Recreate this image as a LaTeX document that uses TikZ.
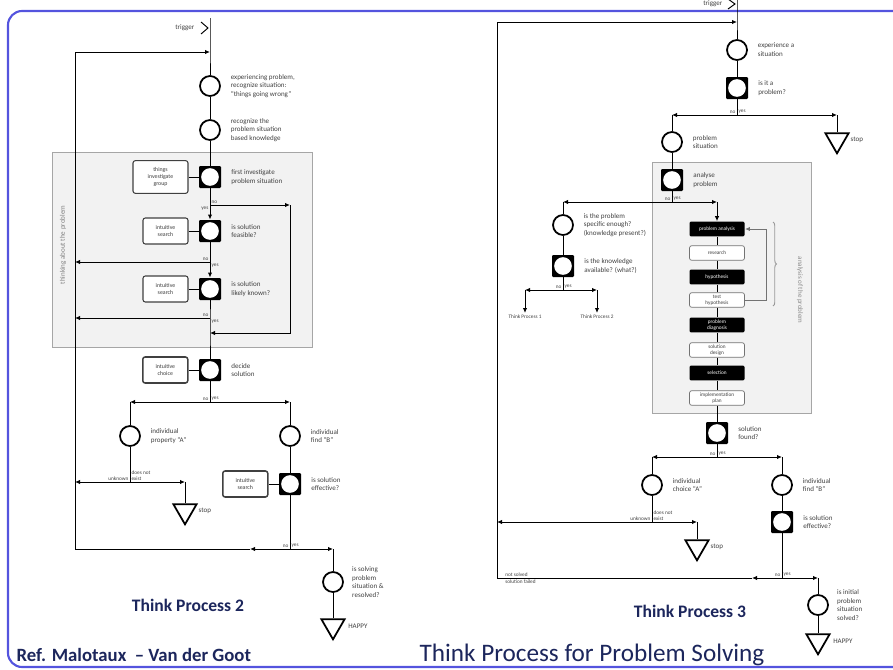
\documentclass[tikz,border=0pt]{standalone}
\usepackage{fontspec}
\setmainfont{Carlito}
\usetikzlibrary{shapes.geometric, arrows.meta, positioning, calc, decorations.pathreplacing}
\definecolor{navy}{RGB}{28,38,92}
\definecolor{frameblue}{RGB}{84,84,222}
\tikzset{every node/.append style={align=left, inner sep=1pt}}

\begin{document}
\begin{tikzpicture}[x=0.3mm, y=-0.3mm, line width=0.8pt,
    st/.style={circle, draw=black, line width=1.5pt, fill=white, minimum size=6mm, inner sep=0pt},
    dc/.style={rectangle, rounded corners=1pt, fill=black, minimum size=6.6mm, inner sep=0pt,
      path picture={\fill[white] (path picture bounding box.center) circle (2.65mm);}},
    tri/.style={regular polygon, regular polygon sides=3, shape border rotate=180, draw=black, line width=1.5pt, fill=white, minimum size=8mm, inner sep=0pt},
    ctx/.style={rectangle, rounded corners=2pt, draw=black!75, line width=0.9pt, fill=white, text=black!75, align=center, font=\fontsize{5}{6}\selectfont, minimum height=7.8mm, minimum width=13.5mm},
    lbl/.style={font=\fontsize{6}{7.5}\selectfont, text=black!75, align=left},
    yn/.style={font=\fontsize{4.5}{5}\selectfont, text=black!75},
    blk/.style={rectangle, rounded corners=1pt, fill=black, text=white, align=center, minimum width=16.5mm, minimum height=4.4mm, font=\fontsize{4.5}{5}\selectfont},
    wht/.style={rectangle, rounded corners=2pt, draw=black!55, line width=0.6pt, fill=white, text=black!75, align=center, minimum width=16.5mm, minimum height=4.4mm, font=\fontsize{4.5}{5}\selectfont},
    flow/.style={-{Latex[length=1.5mm, width=1.3mm]}},
    zone/.style={draw=black!35, fill=black!5, line width=0.6pt},
    tpcap/.style={font=\bfseries\fontsize{15}{17}\selectfont, text=navy}]
\useasboundingbox (0,0) rectangle (893,670);
\draw[frameblue, line width=1.8pt, rounded corners=12pt] (8,11) rectangle (910,667);

\path[zone] (52,152) rectangle (312,347);
\path[zone] (652,162) rectangle (811,413);
\node[lbl, rotate=90, text=black!50] (zl2) at (63,245) {thinking about the problem};
\node[lbl, rotate=-90, text=black!45] (zl3) at (800,290) {analysis of the problem};

\coordinate (tp2in) at (210,18);
\coordinate (tp2top) at (210,52);
\coordinate (lpt) at (75,52);
\node[lbl, anchor=east] (trig2) at (196,28) {trigger};
\draw (201,22) -- (208,28) -- (201,34);
\node[st] (s1) at (210,86) {};
\node[lbl, right=2.5mm of s1] (s1t) {experiencing problem,\\recognize situation:\\``things going wrong''};
\node[st] (s2) at (210,130) {};
\node[lbl, right=2.5mm of s2] (s2t) {recognize the\\problem situation\\based knowledge};
\node[dc] (d1) at (210,177) {};
\node[ctx, minimum width=16.5mm, minimum height=9.8mm, left=3mm of d1] (b1box) {things\\investigate\\group};
\node[lbl, right=2.5mm of d1] (d1t) {first investigate\\problem situation};
\node[dc] (d2) at (210,231) {};
\node[ctx, left=3mm of d2] (b2box) {intuitive\\search};
\node[lbl, right=2.5mm of d2] (d2t) {is solution\\feasible?};
\node[dc] (d3) at (210,289) {};
\node[ctx, left=3mm of d3] (b3box) {intuitive\\search};
\node[lbl, right=2.5mm of d3] (d3t) {is solution\\likely known?};
\node[dc] (d4) at (210,370) {};
\node[ctx, line width=1.3pt, left=3mm of d4] (b4box) {intuitive\\choice};
\node[lbl, right=2.5mm of d4] (d4t) {decide\\solution};
\node[st] (s3) at (130,436) {};
\node[lbl, right=2.5mm of s3] (s3t) {individual\\property ``A''};
\node[st] (s4) at (290,436) {};
\node[lbl, right=2.5mm of s4] (s4t) {individual\\find ``B''};
\node[tri] (t1) at (185,511) {};
\node[lbl, right=1mm of t1] (t1t) {stop};
\node[dc] (d5) at (290,484) {};
\node[ctx, line width=1.3pt, left=3mm of d5] (b5box) {intuitive\\search};
\node[lbl, right=2.5mm of d5] (d5t) {is solution\\effective?};
\node[st] (s5) at (333,582) {};
\node[lbl, right=2mm of s5] (s5t) {is solving\\problem\\situation \&\\resolved?};
\node[tri] (t2) at (333,626) {};
\node[lbl, right=1.5mm of t2] (t2t) {HAPPY};

\coordinate (n1) at (210,205);
\coordinate (r1) at (290,205);
\coordinate (r2) at (290,333);
\coordinate (m2) at (210,333);
\coordinate (m3) at (210,262);
\coordinate (l3) at (75,262);
\coordinate (m4) at (210,318);
\coordinate (l4) at (75,318);
\coordinate (j1) at (210,402);
\coordinate (jl) at (130,402);
\coordinate (jr) at (290,402);
\coordinate (k1) at (130,482);
\coordinate (k0) at (75,482);
\coordinate (k2) at (185,482);
\coordinate (q1) at (290,549);
\coordinate (qa) at (250,549);
\coordinate (q0) at (75,549);
\coordinate (q2) at (333,549);

\draw (tp2in) -- (tp2top) -- (s1) -- (s2) -- (d1);
\draw (d1) -- (n1);
\draw[flow] (n1) -- (d2);
\draw (d2) -- (m3);
\draw[flow] (m3) -- (d3);
\draw (d3) -- (m4) -- (m2) -- (d4);
\draw[flow] (n1) -- (r1);
\draw[flow] (r1) -- (r2) -- (m2);
\draw[flow] (m3) -- (l3);
\draw[flow] (m4) -- (l4);
\draw (q0) -- (lpt);
\draw[flow] (lpt) -- (tp2top);
\foreach \b/\d in {b1box/d1, b2box/d2, b3box/d3, b4box/d4, b5box/d5}
  \draw (\b) -- (\d);
\draw (d4) -- (j1);
\draw[flow] (j1) -- (jl);
\draw[flow] (j1) -- (jr);
\draw (jl) -- (s3) -- (k1);
\draw (jr) -- (s4) -- (d5) -- (q1);
\draw[flow] (k1) -- (k0);
\draw[flow] (k1) -- (k2);
\draw (k2) -- (t1);
\draw[flow] (q1) -- (qa);
\draw (qa) -- (q0);
\draw[flow] (q1) -- (q2);
\draw (q2) -- (s5) -- (t2);

\node[yn, above right] at (n1) {no};
\node[yn, below left] at (n1) {yes};
\node[yn, above left] at (m3) {no};
\node[yn, below right] at (m3) {yes};
\node[yn, above left] at (m4) {no};
\node[yn, below right] at (m4) {yes};
\node[yn, above left] at (j1) {no};
\node[yn, above right] at (j1) {yes};
\node[yn, above left] at (k1) {unknown};
\node[yn, above right, align=left] at (k1) {does not\\exist};
\node[yn, above left] at (q1) {no};
\node[yn, above right] at (q1) {yes};

\coordinate (tp3in) at (737,0);
\coordinate (tp3top) at (737,22);
\coordinate (lpt3) at (497,22);
\node[lbl, anchor=east] (trig3) at (724,4) {trigger};
\draw (728,-1) -- (735,4) -- (728,9);
\node[st] (e1) at (737,50) {};
\node[lbl, right=2.5mm of e1] (e1t) {experience a\\situation};
\node[dc] (e2) at (737,88) {};
\node[lbl, right=2.5mm of e2] (e2t) {is it a\\problem?};
\node[st] (e3) at (672,142) {};
\node[lbl, right=2.5mm of e3] (e3t) {problem\\situation};
\node[tri] (t3) at (837,140) {};
\node[lbl, right=1mm of t3] (t3t) {stop};
\node[dc] (e4) at (672,180) {};
\node[lbl, right=2.5mm of e4] (e4t) {analyse\\problem};
\node[st] (e5) at (563,225) {};
\node[lbl, right=2.5mm of e5] (e5t) {is the problem\\specific enough?\\(knowledge present?)};
\node[dc] (e6) at (563,266) {};
\node[lbl, right=2.5mm of e6] (e6t) {is the knowledge\\available? (what?)};
\node[blk] (k1) at (717,229) {problem analysis};
\node[wht] (k2) at (717,253) {research};
\node[blk] (k3) at (717,277) {hypothesis};
\node[wht] (k4) at (717,300) {test\\hypothesis};
\node[blk] (k5) at (717,325) {problem\\diagnosis};
\node[wht] (k6) at (717,350) {solution\\design};
\node[blk] (k7) at (717,373) {selection};
\node[wht] (k8) at (717,398) {implementation\\plan};
\node[dc] (e7) at (717,433) {};
\node[lbl, right=2.5mm of e7] (e7t) {solution\\found?};
\node[st] (e8) at (652,485) {};
\node[lbl, right=2.5mm of e8] (e8t) {individual\\choice ``A''};
\node[st] (e9) at (782,485) {};
\node[lbl, right=2.5mm of e9] (e9t) {individual\\find ``B''};
\node[dc] (e10) at (782,522) {};
\node[lbl, right=2.5mm of e10] (e10t) {is solution\\effective?};
\node[tri] (t4) at (697,547) {};
\node[lbl, right=1mm of t4] (t4t) {stop};
\node[st] (e11) at (818,605) {};
\node[lbl, right=2mm of e11] (e11t) {is initial\\problem\\situation\\solved?};
\node[tri] (t5) at (818,641) {};
\node[lbl, right=1.5mm of t5] (t5t) {HAPPY};

\coordinate (c1) at (737,115);
\coordinate (c1l) at (672,115);
\coordinate (c1r) at (837,115);
\coordinate (c2) at (672,202);
\coordinate (c2l) at (563,202);
\coordinate (c2r) at (717,202);
\coordinate (c3) at (563,290);
\coordinate (c3l) at (525,290);
\coordinate (c3r) at (597,290);
\coordinate (p1) at (525,313);
\coordinate (p2) at (597,313);
\coordinate (fbt) at (766,229);
\coordinate (fbb) at (766,300);
\coordinate (c4) at (717,457);
\coordinate (c4l) at (652,457);
\coordinate (c4r) at (782,457);
\coordinate (c5) at (652,522);
\coordinate (c5l) at (497,522);
\coordinate (c5r) at (697,522);
\coordinate (c6) at (782,578);
\coordinate (c6a) at (752,578);
\coordinate (c6l) at (497,578);
\coordinate (c6r) at (818,578);
\node[yn, below] (p1t) at (p1) {Think Process 1};
\node[yn, below] (p2t) at (p2) {Think Process 2};

\draw (tp3in) -- (tp3top) -- (e1) -- (e2) -- (c1);
\draw (c6l) -- (lpt3);
\draw[flow] (lpt3) -- (tp3top);
\draw[flow] (c1) -- (c1l);
\draw[flow] (c1) -- (c1r);
\draw (c1l) -- (e3) -- (e4) -- (c2);
\draw (c1r) -- (t3);
\draw[flow] (c2) -- (c2l);
\draw[flow] (c2) -- (c2r);
\draw (c2l) -- (e5) -- (e6) -- (c3);
\draw[flow] (c3) -- (c3l);
\draw[flow] (c3) -- (c3r);
\draw[flow] (c3l) -- (p1);
\draw[flow] (c3r) -- (p2);
\draw[flow] (c2r) -- (k1);
\foreach \i/\j in {1/2, 2/3, 3/4, 4/5, 5/6, 6/7, 7/8}
  \draw (k\i) -- (k\j);
\draw (k8) -- (e7) -- (c4);
\draw[black!55] (k4.east) -- (fbb) -- (fbt);
\draw[flow, black!55] (fbt) -- (k1.east);
\draw[decorate, decoration={brace, amplitude=3pt}, black!40] (773,222) -- (773,306);
\draw[flow] (c4) -- (c4l);
\draw[flow] (c4) -- (c4r);
\draw (c4l) -- (e8) -- (c5);
\draw (c4r) -- (e9) -- (e10) -- (c6);
\draw[flow] (c5) -- (c5l);
\draw[flow] (c5) -- (c5r);
\draw (c5r) -- (t4);
\draw[flow] (c6) -- (c6a);
\draw (c6a) -- (c6l);
\draw[flow] (c6) -- (c6r);
\draw (c6r) -- (e11) -- (t5);

\node[yn, above left] at (c1) {no};
\node[yn, above right] at (c1) {yes};
\node[yn, above left] at (c2) {no};
\node[yn, above right] at (c2) {yes};
\node[yn, above left] at (c3) {no};
\node[yn, above right] at (c3) {yes};
\node[yn, above left] at (c4) {no};
\node[yn, above right] at (c4) {yes};
\node[yn, above left] at (c5) {unknown};
\node[yn, above right, align=left] at (c5) {does not\\exist};
\node[yn, above left] at (c6) {no};
\node[yn, above right] at (c6) {yes};
\node[yn, anchor=south west] at ([xshift=2mm]c6l) {not solved};
\node[yn, anchor=north west] at ([xshift=2mm]c6l) {solution failed};

\node[tpcap] (tp2) at (188,605) {Think Process 2};
\node[tpcap] (tp3) at (690,611) {Think Process 3};
\node[font=\bfseries\fontsize{16}{18}\selectfont, text=navy, anchor=west] (ref) at (15,655) {Ref. Malotaux~~-- Van der Goot};
\node[font=\fontsize{21.5}{24}\selectfont, text=navy] (title) at (592,655) {Think Process for Problem Solving};
\end{tikzpicture}
\end{document}
